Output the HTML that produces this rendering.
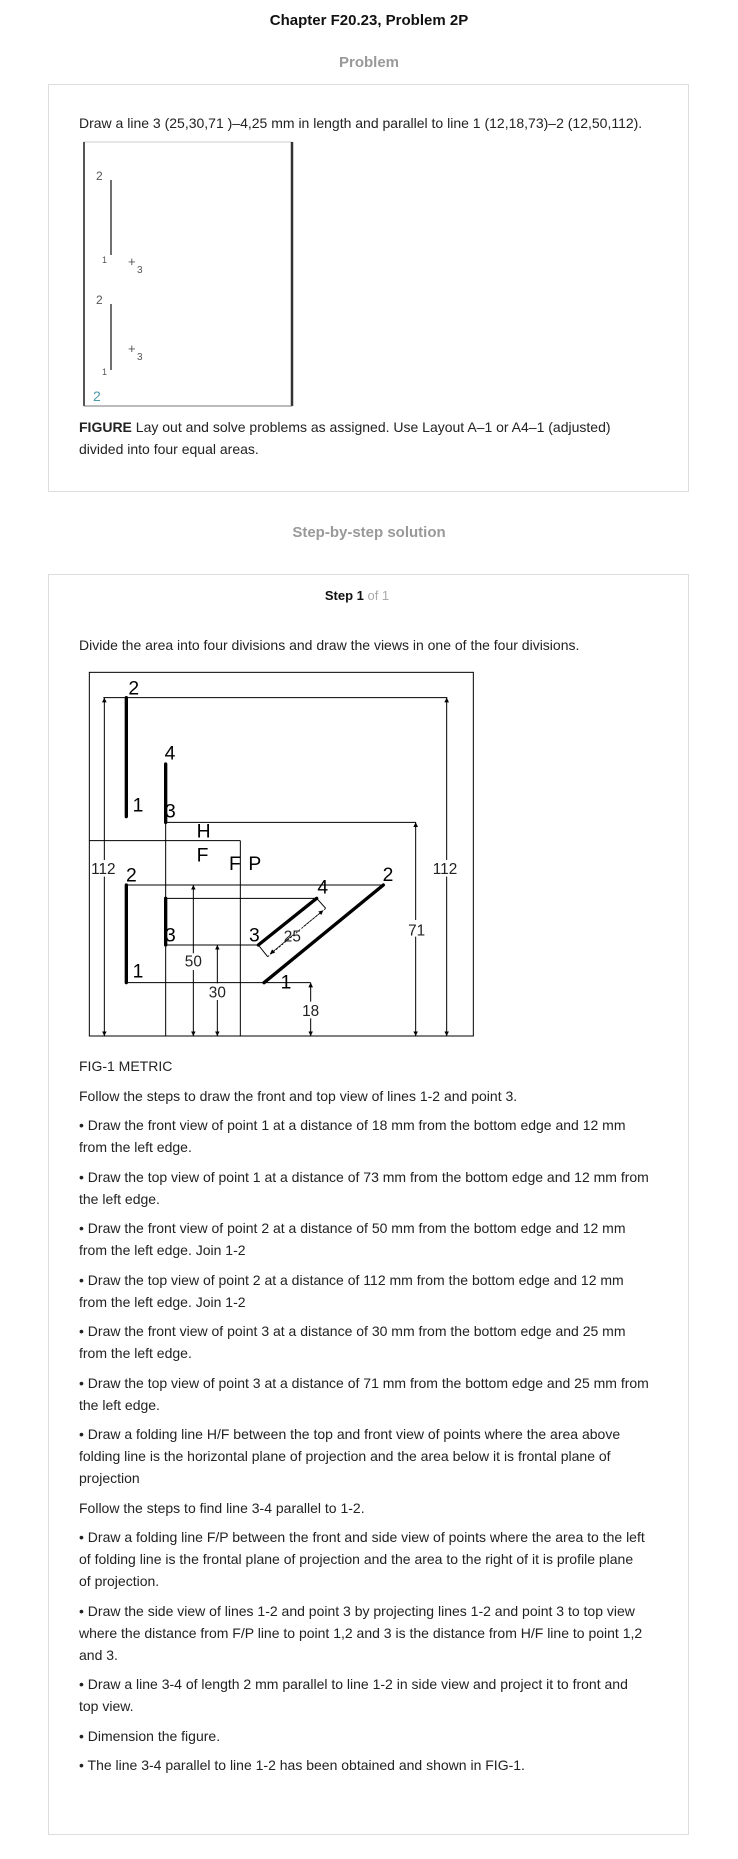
<!DOCTYPE html>
<html><head><meta charset="utf-8">
<style>
html,body{margin:0;padding:0;background:#fff;}
body{width:738px;height:1859px;position:relative;font-family:"Liberation Sans",Arial,sans-serif;color:#222;overflow:hidden;}
.abs{position:absolute;}
.title{left:0;width:738px;top:12px;text-align:center;font-weight:bold;font-size:15px;color:#111;}
.sec{left:0;width:738px;text-align:center;font-weight:bold;font-size:15px;color:#999;}
.box{border:1px solid #ddd;left:48px;width:639px;}
.txt{font-size:14px;line-height:22px;color:#222;}
.steps{white-space:nowrap;}
.steps p{margin:0 0 7.5px 0;}
</style></head>
<body>
<div class="abs title">Chapter F20.23, Problem 2P</div>
<div class="abs sec" style="top:54px">Problem</div>
<div class="abs box" style="top:84px;height:406px"></div>
<div class="abs txt" style="left:79px;top:112px;white-space:nowrap">Draw a line 3 (25,30,71 )–4,25 mm in length and parallel to line 1 (12,18,73)–2 (12,50,112).</div>
<svg class="abs" style="left:80px;top:138px" width="216" height="272" viewBox="80 138 216 272">
  <rect x="84" y="142" width="208" height="264" fill="#fff" stroke="#ccc" stroke-width="1"/>
  <line x1="84" y1="142" x2="84" y2="406" stroke="#555" stroke-width="2"/>
  <line x1="292" y1="142" x2="292" y2="406" stroke="#333" stroke-width="2.5"/>
  <line x1="84" y1="406" x2="292" y2="406" stroke="#777" stroke-width="1"/>
  <line x1="111" y1="180" x2="111" y2="255" stroke="#222" stroke-width="1.3"/>
  <line x1="111" y1="304" x2="111" y2="370" stroke="#222" stroke-width="1.3"/>
  <text x="96" y="180" font-size="12" fill="#555" font-family="Liberation Sans,sans-serif">2</text>
  <text x="102" y="263" font-size="9" fill="#555" font-family="Liberation Sans,sans-serif">1</text>
  <text x="96" y="304" font-size="12" fill="#555" font-family="Liberation Sans,sans-serif">2</text>
  <text x="102" y="375" font-size="9" fill="#555" font-family="Liberation Sans,sans-serif">1</text>
  <text x="128" y="266" font-size="13" fill="#555" font-family="Liberation Sans,sans-serif">+</text>
  <text x="137" y="273" font-size="10" fill="#555" font-family="Liberation Sans,sans-serif">3</text>
  <text x="128" y="353" font-size="13" fill="#555" font-family="Liberation Sans,sans-serif">+</text>
  <text x="137" y="360" font-size="10" fill="#555" font-family="Liberation Sans,sans-serif">3</text>
  <text x="93" y="401" font-size="14" fill="#4a9aa8" font-family="Liberation Sans,sans-serif">2</text>
</svg>
<div class="abs txt" style="left:79px;top:416px;white-space:nowrap"><b>FIGURE</b> Lay out and solve problems as assigned. Use Layout A–1 or A4–1 (adjusted)<br>divided into four equal areas.</div>

<div class="abs sec" style="top:524px">Step-by-step solution</div>
<div class="abs box" style="top:574px;height:1259px"></div>
<div class="abs" style="left:0;width:714px;top:588px;text-align:center;font-size:13px;font-weight:bold;color:#111">Step 1 <span style="color:#aaa;font-weight:normal">of 1</span></div>
<div class="abs txt" style="left:79px;top:634px;white-space:nowrap">Divide the area into four divisions and draw the views in one of the four divisions.</div>

<svg class="abs" style="left:40px;top:560px" width="460" height="500" viewBox="0 0 1380 1500" font-family="Liberation Sans,Arial,sans-serif">
  <defs>
    <marker id="ar" viewBox="0 0 10 10" refX="10" refY="5" markerWidth="14" markerHeight="22" markerUnits="userSpaceOnUse" orient="auto">
      <path d="M0,0 L10,5 L0,10 z" fill="#000"/>
    </marker>
  </defs>
  <g stroke="#000" stroke-width="3" fill="none">
    <rect x="148" y="337" width="1152" height="1091"/>
    <line x1="190" y1="413" x2="1222" y2="413"/>
    <line x1="377" y1="787" x2="1128" y2="787"/>
    <line x1="148" y1="842" x2="601" y2="842"/>
    <line x1="601" y1="842" x2="601" y2="1428"/>
    <line x1="377" y1="787" x2="377" y2="1428"/>
    <line x1="259" y1="975" x2="1030" y2="975"/>
    <line x1="377" y1="1015" x2="830" y2="1015"/>
    <line x1="377" y1="1155" x2="655" y2="1155"/>
    <line x1="259" y1="1268" x2="812" y2="1268"/>
    <line x1="830" y1="1015" x2="857" y2="1045"/>
    <line x1="655" y1="1155" x2="683" y2="1190"/>
    <line x1="683" y1="1190" x2="857" y2="1045" stroke-dasharray="6,5" stroke-width="2.5"/>
    <line x1="193" y1="900" x2="193" y2="413" marker-end="url(#ar)"/>
    <line x1="193" y1="950" x2="193" y2="1428" marker-end="url(#ar)"/>
    <line x1="1220" y1="900" x2="1220" y2="413" marker-end="url(#ar)"/>
    <line x1="1220" y1="950" x2="1220" y2="1428" marker-end="url(#ar)"/>
    <line x1="1127" y1="1080" x2="1127" y2="787" marker-end="url(#ar)"/>
    <line x1="1127" y1="1130" x2="1127" y2="1428" marker-end="url(#ar)"/>
    <line x1="460" y1="1180" x2="460" y2="975" marker-end="url(#ar)"/>
    <line x1="460" y1="1230" x2="460" y2="1428" marker-end="url(#ar)"/>
    <line x1="532" y1="1270" x2="532" y2="1155" marker-end="url(#ar)"/>
    <line x1="532" y1="1320" x2="532" y2="1428" marker-end="url(#ar)"/>
    <line x1="812" y1="1325" x2="812" y2="1268" marker-end="url(#ar)"/>
    <line x1="812" y1="1375" x2="812" y2="1428" marker-end="url(#ar)"/>
    <line x1="760" y1="1124" x2="690" y2="1182" marker-end="url(#ar)" stroke-width="2"/>
    <line x1="790" y1="1100" x2="850" y2="1051" marker-end="url(#ar)" stroke-width="2"/>
  </g>
  <g stroke="#000" stroke-width="10" stroke-linecap="round">
    <line x1="259" y1="413" x2="259" y2="770"/>
    <line x1="377" y1="612" x2="377" y2="787"/>
    <line x1="259" y1="975" x2="259" y2="1268"/>
    <line x1="377" y1="1015" x2="377" y2="1155"/>
    <line x1="672" y1="1268" x2="1030" y2="975"/>
    <line x1="655" y1="1155" x2="830" y2="1015"/>
  </g>
  <g fill="#000" font-size="58">
    <text x="265" y="403">2</text>
    <text x="278" y="755">1</text>
    <text x="374" y="598">4</text>
    <text x="375" y="772">3</text>
    <text x="470" y="832">H</text>
    <text x="470" y="905">F</text>
    <text x="567" y="930">F</text>
    <text x="625" y="930">P</text>
    <text x="258" y="965">2</text>
    <text x="278" y="1252">1</text>
    <text x="375" y="1145">3</text>
    <text x="627" y="1145">3</text>
    <text x="832" y="1000">4</text>
    <text x="1028" y="963">2</text>
    <text x="722" y="1285">1</text>
  </g>
  <g fill="#222" font-size="46" text-anchor="middle">
    <text x="190" y="942">112</text>
    <text x="1215" y="942">112</text>
    <text x="1130" y="1127">71</text>
    <text x="460" y="1220">50</text>
    <text x="532" y="1313">30</text>
    <text x="812" y="1368">18</text>
    <text x="757" y="1145">25</text>
  </g>
</svg>

<div class="abs txt steps" style="left:79px;top:1055px;width:585px">
<p>FIG-1 METRIC</p>
<p>Follow the steps to draw the front and top view of lines 1-2 and point 3.</p>
<p>• Draw the front view of point 1 at a distance of 18 mm from the bottom edge and 12 mm<br>from the left edge.</p>
<p>• Draw the top view of point 1 at a distance of 73 mm from the bottom edge and 12 mm from<br>the left edge.</p>
<p>• Draw the front view of point 2 at a distance of 50 mm from the bottom edge and 12 mm<br>from the left edge. Join 1-2</p>
<p>• Draw the top view of point 2 at a distance of 112 mm from the bottom edge and 12 mm<br>from the left edge. Join 1-2</p>
<p>• Draw the front view of point 3 at a distance of 30 mm from the bottom edge and 25 mm<br>from the left edge.</p>
<p>• Draw the top view of point 3 at a distance of 71 mm from the bottom edge and 25 mm from<br>the left edge.</p>
<p>• Draw a folding line H/F between the top and front view of points where the area above<br>folding line is the horizontal plane of projection and the area below it is frontal plane of<br>projection</p>
<p>Follow the steps to find line 3-4 parallel to 1-2.</p>
<p>• Draw a folding line F/P between the front and side view of points where the area to the left<br>of folding line is the frontal plane of projection and the area to the right of it is profile plane<br>of projection.</p>
<p>• Draw the side view of lines 1-2 and point 3 by projecting lines 1-2 and point 3 to top view<br>where the distance from F/P line to point 1,2 and 3 is the distance from H/F line to point 1,2<br>and 3.</p>
<p>• Draw a line 3-4 of length 2 mm parallel to line 1-2 in side view and project it to front and<br>top view.</p>
<p>• Dimension the figure.</p>
<p>• The line 3-4 parallel to line 1-2 has been obtained and shown in FIG-1.</p>
</div>
</body></html>
